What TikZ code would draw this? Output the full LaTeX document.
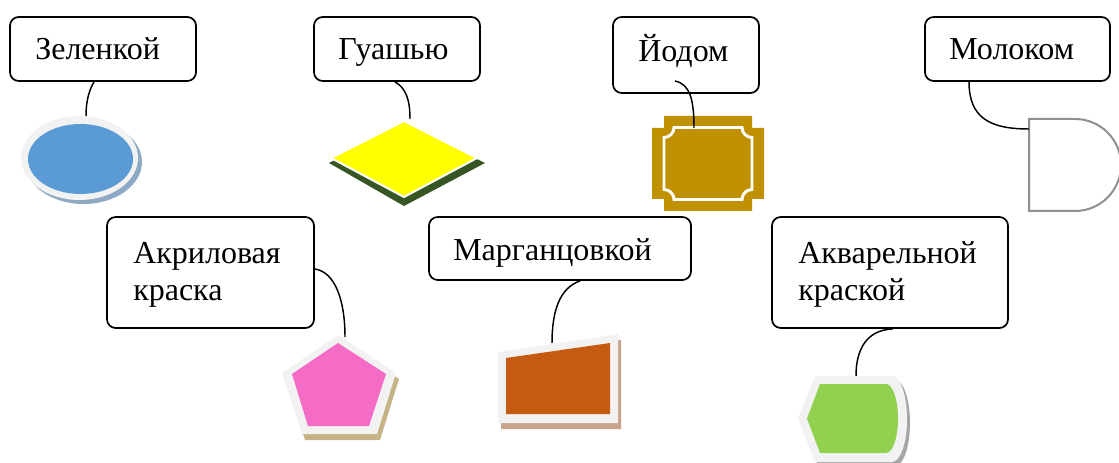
\documentclass[tikz,border=0pt]{standalone}
\usepackage{fontspec}
\setmainfont{Liberation Serif}
\usetikzlibrary{calc,shapes.geometric}
\definecolor{rim}{HTML}{F2F2F2}
\definecolor{skyblue}{HTML}{5B9BD5}
\definecolor{blueshadow}{HTML}{8EA9C4}
\definecolor{paintyellow}{HTML}{FFFF00}
\definecolor{darkgreen}{HTML}{375623}
\definecolor{gold}{HTML}{BF9000}
\definecolor{dgray}{HTML}{8F8F8F}
\definecolor{pink}{HTML}{F46CC6}
\definecolor{tan}{HTML}{C6B487}
\definecolor{rust}{HTML}{C55A11}
\definecolor{rustshadow}{HTML}{C9A38B}
\definecolor{lime}{HTML}{92D050}
\definecolor{grayshadow}{HTML}{A6A6A6}
\begin{document}
\begin{tikzpicture}[x=0.75pt,y=-0.75pt,
  callout/.style 2 args={draw=black, fill=white, line width=1.3pt,
    rounded corners=6.5pt, minimum width=#1*0.75pt, minimum height=#2*0.75pt,
    inner sep=0pt},
  word/.style={anchor=base west, inner sep=0pt,
    font=\fontsize{24}{27.75}\selectfont},
  link/.style={draw=black, line width=1.1pt}]
\useasboundingbox (0,0) rectangle (1119,463);

% --- green antiseptic: ellipse ---
\fill[blueshadow] (83.5,162) ellipse [x radius=58.5, y radius=42];
\fill[rim] (79.5,158) ellipse [x radius=58.5, y radius=42];
\fill[skyblue] (80.5,159) ellipse [x radius=52.5, y radius=35];
\coordinate (s1) at (86,116);

% --- gouache: diamond ---
\fill[darkgreen] (329,163) -- (404,124) -- (485,163) -- (404,206) -- cycle;
\filldraw[fill=paintyellow, draw=white, line width=1.5pt]
  (404,121) -- (477,158) -- (404,197) -- (331,158) -- cycle;
\coordinate (s2) at (410,119);

% --- iodine: plaque ---
\fill[gold] (664,116) -- (752,116) -- (752,128) -- (764,128) -- (764,199)
  -- (752,199) -- (752,211) -- (664,211) -- (664,199) -- (652,199)
  -- (652,128) -- (664,128) -- cycle;
\draw[white, line width=2.2pt] (674,127.5) -- (742,127.5)
  arc[start angle=180, end angle=90, radius=10] -- (752,189.5)
  arc[start angle=270, end angle=180, radius=10] -- (674,199.5)
  arc[start angle=0, end angle=-90, radius=10] -- (664,137.5)
  arc[start angle=90, end angle=0, radius=10] -- cycle;
\coordinate (s3) at (694,128);

% --- milk: delay shape ---
\filldraw[fill=white, draw=dgray, line width=1.5pt] (1029,119) -- (1075,119)
  arc[start angle=-90, end angle=90, radius=46] -- (1029,211) -- cycle;
\coordinate (s4) at (1029,129);

% --- acrylic: pentagon ---
\fill[tan] (341,341) -- (399,379) -- (380,440) -- (305,440) -- (285,379) -- cycle;
\fill[rim] (338,335) -- (396,373) -- (377,434) -- (302,434) -- (282,373) -- cycle;
\fill[pink] (338,343) -- (386,374) -- (369,426) -- (308,426) -- (292,374) -- cycle;
\coordinate (s5) at (345,337);

% --- permanganate: manual input ---
\fill[rustshadow] (501,358) -- (621,340) -- (621,429) -- (501,429) -- cycle;
\fill[rim] (498,352) -- (618,334) -- (618,423) -- (498,423) -- cycle;
\fill[rust] (506,358) -- (610,343) -- (610,414) -- (506,414) -- cycle;
\coordinate (s6) at (552,343);

% --- watercolour: display shape ---
\fill[grayshadow] (801,422) -- (818,380) -- (895,380)
  arc[start angle=-90, end angle=90, x radius=15, y radius=43]
  -- (818,466) -- cycle;
\fill[rim] (798,418) -- (815,376) -- (892,376)
  arc[start angle=-90, end angle=90, x radius=15, y radius=43]
  -- (815,462) -- cycle;
\fill[lime] (807,418.5) -- (820,384) -- (886,384)
  arc[start angle=-90, end angle=90, x radius=12, y radius=34.5]
  -- (820,453) -- cycle;
\coordinate (s7) at (856,376);

% --- callout boxes ---
\node[callout={186}{64}] (b1) at (103,49) {};
\node[callout={166}{64}] (b2) at (397,49) {};
\node[callout={146}{76}] (b3) at (686,55) {};
\node[callout={185}{64}] (b4) at (1017.5,49) {};
\node[callout={207}{111}] (b5) at (210.5,272.5) {};
\node[callout={262}{63}] (b6) at (560,248.5) {};
\node[callout={236}{111}] (b7) at (890,272.5) {};

\node[word] (t1) at (35,60) {Зеленкой};
\node[word] (t2) at (338,60) {Гуашью};
\node[word] (t3) at (638,62) {Йодом};
\node[word] (t4) at (949,60) {Молоком};
\node[word] (t5a) at (133,263) {Акриловая};
\node[word] (t5b) at (133,300) {краска};
\node[word] (t6) at (453,260) {Марганцовкой};
\node[word] (t7a) at (798,263) {Акварельной};
\node[word] (t7b) at (798,300) {краской};

% --- connectors ---
\draw[link] ($(b1.south)+(-9,0)$) .. controls (88,92) and (86,104) .. (s1);
\draw[link] ($(b2.south)+(-2,0)$) .. controls (406,88) and (410,100) .. (s2);
\draw[link] ($(b3.center)+(-11,26)$) .. controls (690,84) and (694,100) .. (s3);
\draw[link] ($(b4.south)+(-48.5,0)$) .. controls (969,118) and (990,129) .. (s4);
\draw[link] ($(b5.east)+(0,-3.5)$) .. controls (335,272) and (345,300) .. (s5);
\draw[link] ($(b6.south)+(20,0)$) .. controls (560,288) and (552,310) .. (s6);
\draw[link] ($(b7.south)+(3,0)$) .. controls (866,330) and (856,350) .. (s7);
\end{tikzpicture}
\end{document}
